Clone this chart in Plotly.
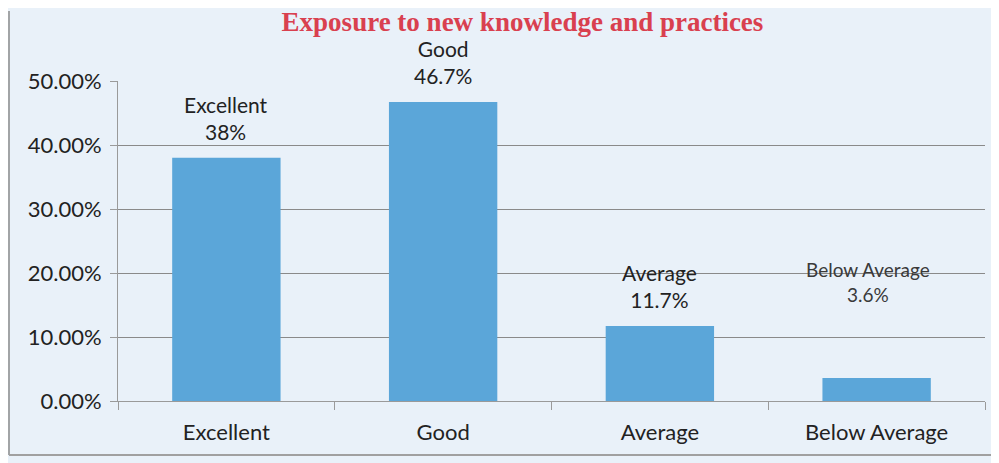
import plotly.graph_objects as go

categories = ["Excellent", "Good", "Average", "Below Average"]
values = [0.38, 0.467, 0.117, 0.036]
value_labels = ["38%", "46.7%", "11.7%", "3.6%"]
tick_vals = [0, 0.1, 0.2, 0.3, 0.4, 0.5]

W, H = 999, 463
L, R, T, B = 110, 22, 73, 70

fig = go.Figure(go.Bar(
    x=categories, y=values,
    marker=dict(color="#5ba6d9", line=dict(width=0)),
    width=0.5,
))

# data labels above bars (the last one sits higher and smaller in the original)
for i, (c, v, lab) in enumerate(zip(categories, values, value_labels)):
    last = i == len(categories) - 1
    fig.add_annotation(x=c, y=v, text=c + "<br>" + lab, showarrow=False,
                       yanchor="bottom", yshift=70 if last else 12,
                       xshift=-9 if last else 0,
                       font=dict(size=19 if last else 21,
                                 color="#3a3a3a" if last else "#222222",
                                 family="Lato, Open Sans, sans-serif"))

fig.update_layout(
    width=W, height=H,
    margin=dict(l=L, r=R, t=T, b=B),
    paper_bgcolor="#e9f1f9", plot_bgcolor="#e9f1f9",
    title=dict(text="<b>Exposure to new knowledge and practices</b>",
               x=0.515, xanchor="center", y=0.97, yanchor="middle",
               font=dict(family="Liberation Serif, DejaVu Serif, serif", size=27, color="#d9404f")),
    font=dict(family="Lato, Open Sans, sans-serif", size=22, color="#222222"),
    showlegend=False,
)
# chart border (left and bottom edges)
pw, ph = W - L - R, H - T - B
fig.add_shape(type="line", xref="paper", yref="paper",
              x0=-(L - 1) / pw, x1=-(L - 1) / pw, y0=-(B - 16) / ph, y1=1 + (T - 3) / ph,
              line=dict(color="#8a8a8a", width=1.5))
fig.add_shape(type="line", xref="paper", yref="paper",
              x0=-(L - 1) / pw, x1=1 + (R - 1) / pw, y0=-(B - 16) / ph, y1=-(B - 16) / ph,
              line=dict(color="#a0a0a0", width=2))

fig.update_yaxes(range=[0, 0.5], tickvals=tick_vals, tickformat=".2%",
                 showgrid=True, gridcolor="#8a8a8a", gridwidth=1,
                 showline=True, linecolor="#9a9a9a", ticks="outside", ticklen=7,
                 tickcolor="#9a9a9a", zeroline=False, ticklabelstandoff=4)
fig.update_xaxes(showline=True, linecolor="#9a9a9a", ticks="outside", tickson="boundaries",
                 ticklen=8, tickcolor="#9a9a9a", showgrid=False, ticklabelstandoff=12)

fig.write_html("out.html")
